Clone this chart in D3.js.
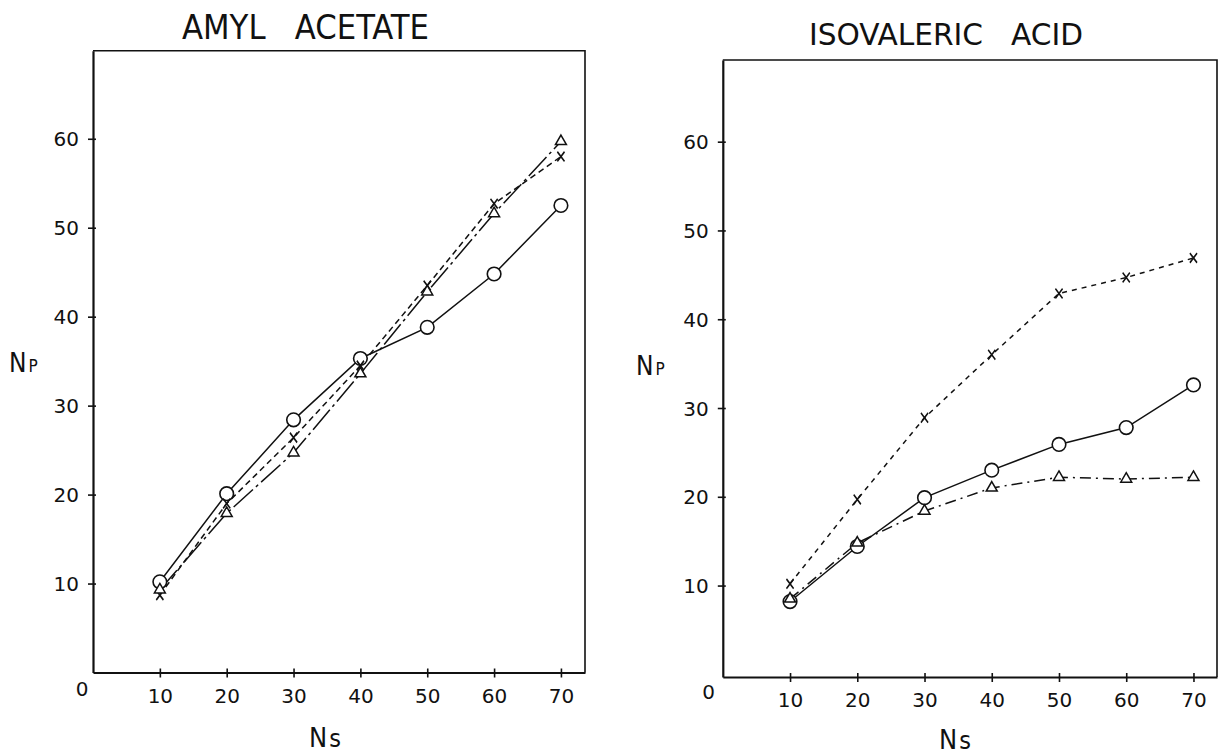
<!DOCTYPE html>
<html>
<head>
<meta charset="utf-8">
<script src="https://cdn.jsdelivr.net/npm/d3@7"></script>
<style>
  body { margin: 0; background: #fff; }
  svg { display: block; }
  .title, .lab { font-family: "Liberation Sans Narrow", "DejaVu Sans Condensed", sans-serif; fill: #111; white-space: pre; }
</style>
</head>
<body>
<div id="chart"></div>
<script>
// Ns values (x) shared by both panels
const nsValues = [10, 20, 30, 40, 50, 60, 70];
const xTicks = [10, 20, 30, 40, 50, 60, 70];
const yTicks = [10, 20, 30, 40, 50, 60];

// AMYL ACETATE
const amylCircle   = [10.2, 20.1, 28.4, 35.3, 38.8, 44.8, 52.5];
const amylCross    = [8.7, 19.0, 26.4, 34.5, 43.5, 52.7, 58.0];
const amylTriangle = [9.3, 17.9, 24.7, 33.6, 42.8, 51.6, 59.7];

// ISOVALERIC ACID
const isoCircle   = [8.2, 14.4, 19.9, 23.0, 25.9, 27.8, 32.6];
const isoCross    = [10.2, 19.7, 28.9, 36.0, 42.9, 44.7, 46.9];
const isoTriangle = [8.5, 14.8, 18.4, 21.0, 22.2, 22.0, 22.2];

let tickFont = '"DejaVu Sans", Verdana, sans-serif';
let tickSize = '20px';

let svg = d3.select('#chart').append('svg')
    .attr('width', 1220).attr('height', 756);

let panels = [
    {title: 'AMYL   ACETATE', titleX: 305.5, titleY: 39, titleFs: 33, titleLen: 247,
     x0: 93, x1: 585, xMax: 73.6, yBot: 672.5, yTop: 50.7, yMin: 0, yMax: 69.9,
     xLabY: 703, zero: [82, 696], ns: [309, 747], np: [9, 372],
     series: [
        {vals: amylCircle, mark: 'circle', dash: null},
        {vals: amylCross, mark: 'cross', dash: '6,4'},
        {vals: amylTriangle, mark: 'triangle', dash: '26,4,3,4'}
     ]},
    {title: 'ISOVALERIC   ACID', titleX: 946, titleY: 45, titleFs: 31, titleLen: 274,
     x0: 722.8, x1: 1217, xMax: 73.5, yBot: 677, yTop: 60, yMin: -0.3, yMax: 69.2,
     xLabY: 707, zero: [708.5, 699], ns: [939, 749], np: [636, 375],
     series: [
        {vals: isoCircle, mark: 'circle', dash: null},
        {vals: isoCross, mark: 'cross', dash: '5,5'},
        {vals: isoTriangle, mark: 'triangle', dash: '11,5,2,5'}
     ]}
];

panels.forEach(p => {
    let x = d3.scaleLinear().domain([0, p.xMax]).range([p.x0, p.x1]);
    let y = d3.scaleLinear().domain([p.yMin, p.yMax]).range([p.yBot, p.yTop]);
    let g = svg.append('g');

    // frame top + right
    g.append('path')
        .attr('d', `M${p.x0},${p.yTop}H${p.x1}V${p.yBot}`)
        .attr('fill', 'none').attr('stroke', '#111').attr('stroke-width', 1.6);

    let xAxis = g.append('g')
        .attr('transform', `translate(0,${p.yBot})`)
        .call(d3.axisBottom(x).tickValues(xTicks).tickSizeOuter(0).tickSizeInner(5).tickFormat(d3.format('d')));
    xAxis.select('.domain').attr('stroke', '#111').attr('stroke-width', 2.2);
    xAxis.selectAll('.tick line').attr('y1', -4).attr('y2', 5).attr('stroke', '#111').attr('stroke-width', 1.6);
    xAxis.selectAll('.tick text').attr('y', p.xLabY - p.yBot).attr('dy', 0)
        .style('font-family', tickFont).style('font-size', tickSize).attr('fill', '#111');

    let yAxis = g.append('g')
        .attr('transform', `translate(${p.x0},0)`)
        .call(d3.axisLeft(y).tickValues(yTicks).tickSizeOuter(0).tickSizeInner(5).tickFormat(d3.format('d')));
    yAxis.select('.domain').attr('stroke', '#111').attr('stroke-width', 2.2);
    yAxis.selectAll('.tick line').attr('x1', -5).attr('x2', 3).attr('stroke', '#111').attr('stroke-width', 1.6);
    yAxis.selectAll('.tick text').attr('x', -14).attr('dy', '0.36em')
        .style('font-family', tickFont).style('font-size', tickSize).attr('fill', '#111');

    // zero at the origin
    g.append('text')
        .attr('x', p.zero[0]).attr('y', p.zero[1])
        .attr('text-anchor', 'middle')
        .style('font-family', tickFont).style('font-size', tickSize).attr('fill', '#111')
        .text('0');

    // title
    g.append('text').attr('class', 'title')
        .attr('x', p.titleX - p.titleLen / 2).attr('y', p.titleY)
        .attr('font-size', p.titleFs)
        .attr('textLength', p.titleLen).attr('lengthAdjust', 'spacingAndGlyphs')
        .text(p.title);

    // axis labels
    let ns = g.append('text').attr('class', 'lab')
        .attr('x', p.ns[0]).attr('y', p.ns[1]).attr('font-size', 27);
    ns.append('tspan').text('N');
    ns.append('tspan').attr('dx', 2).attr('font-size', 25).text('s');

    let np = g.append('text').attr('class', 'lab')
        .attr('x', p.np[0]).attr('y', p.np[1]).attr('font-size', 26);
    np.append('tspan').text('N');
    np.append('tspan').attr('dx', 2).attr('font-size', 17).text('P');

    let line = d3.line().x((d, i) => x(nsValues[i])).y(d => y(d));

    p.series.forEach(s => {
        g.append('path')
            .datum(s.vals)
            .attr('d', line)
            .attr('fill', 'none')
            .attr('stroke', '#111')
            .attr('stroke-width', 1.5)
            .attr('stroke-dasharray', s.dash);
    });

    p.series.forEach(s => {
        let pts = g.selectAll(null).data(s.vals).enter();
        if (s.mark === 'circle') {
            pts.append('circle')
                .attr('cx', (d, i) => x(nsValues[i])).attr('cy', d => y(d))
                .attr('r', 6.8)
                .attr('fill', '#fff').attr('stroke', '#111').attr('stroke-width', 1.6);
        } else if (s.mark === 'triangle') {
            pts.append('path')
                .attr('d', d3.symbol(d3.symbolTriangle, 52))
                .attr('transform', (d, i) => `translate(${x(nsValues[i])},${y(d)})`)
                .attr('fill', '#fff').attr('stroke', '#111').attr('stroke-width', 1.5);
        } else {
            pts.append('path')
                .attr('d', d3.symbol(d3.symbolTimes, 48))
                .attr('transform', (d, i) => `translate(${x(nsValues[i])},${y(d)}) scale(0.85,1.15)`)
                .attr('fill', 'none').attr('stroke', '#111').attr('stroke-width', 1.7);
        }
    });
});
</script>
</body>
</html>
